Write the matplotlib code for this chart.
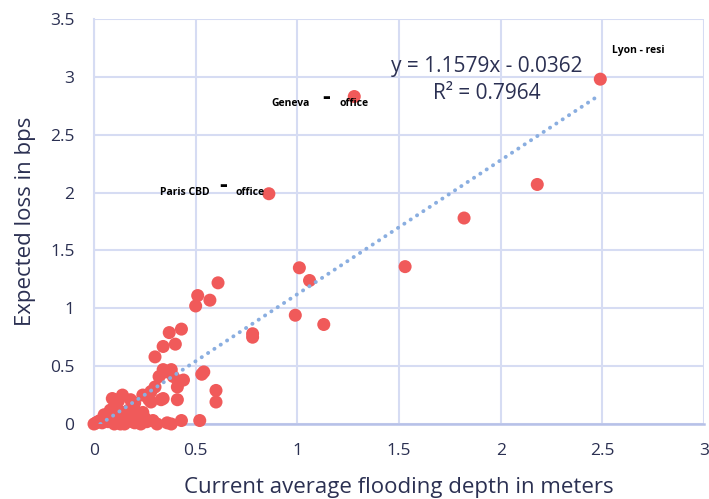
import matplotlib
matplotlib.use("Agg")
import matplotlib.pyplot as plt
import numpy as np

# ---- data ----
depth_m = [0.00, 0.01, 0.02, 0.03, 0.04, 0.05, 0.06, 0.07, 0.08, 0.09,
           0.09, 0.10, 0.10, 0.11, 0.12, 0.12, 0.13, 0.14, 0.14, 0.15,
           0.16, 0.17, 0.18, 0.19, 0.20, 0.20, 0.21, 0.22, 0.23, 0.24,
           0.24, 0.25, 0.26, 0.27, 0.28, 0.28, 0.29, 0.30, 0.30, 0.31,
           0.32, 0.33, 0.34, 0.34, 0.34, 0.35, 0.36, 0.37, 0.38, 0.38,
           0.39, 0.40, 0.41, 0.41, 0.42, 0.43, 0.43, 0.44, 0.50, 0.51,
           0.52, 0.53, 0.54, 0.57, 0.60, 0.60, 0.61, 0.78, 0.78, 0.86,
           0.99, 1.01, 1.06, 1.13, 1.28, 1.53, 1.82, 2.18, 2.49]
loss_bps = [0.00, 0.01, 0.02, 0.03, 0.01, 0.08, 0.04, 0.02, 0.12, 0.22,
            0.06, 0.21, 0.00, 0.15, 0.05, 0.20, 0.00, 0.25, 0.10, 0.00,
            0.03, 0.12, 0.21, 0.02, 0.18, 0.01, 0.09, 0.04, 0.00, 0.25,
            0.10, 0.05, 0.02, 0.21, 0.19, 0.28, 0.03, 0.32, 0.58, 0.00,
            0.41, 0.21, 0.22, 0.47, 0.67, 0.45, 0.01, 0.79, 0.47, 0.00,
            0.41, 0.69, 0.32, 0.21, 0.37, 0.03, 0.82, 0.38, 1.02, 1.11,
            0.03, 0.43, 0.45, 1.07, 0.29, 0.19, 1.22, 0.78, 0.75, 1.99,
            0.94, 1.35, 1.24, 0.86, 2.83, 1.36, 1.78, 2.07, 2.98]

trend_slope = 1.1579
trend_intercept = -0.0362
r_squared = 0.7964

x_ticks = [0, 0.5, 1, 1.5, 2, 2.5, 3]
x_tick_labels = ["0", "0.5", "1", "1.5", "2", "2.5", "3"]
y_ticks = [0, 0.5, 1, 1.5, 2, 2.5, 3, 3.5]
y_tick_labels = ["0", "0.5", "1", "1.5", "2", "2.5", "3", "3.5"]

# ---- style ----
plt.rcParams['font.family'] = ['Open Sans', 'DejaVu Sans']
TXT = '#2b3052'
GRID = '#d6dcf3'
PT = '#f05a5a'
TREND = '#8aaee0'

fig = plt.figure(figsize=(7.09, 4.99), dpi=100)
ax = fig.add_axes([94/709, 1 - 424/499, 610/709, (424 - 19)/499])

ax.set_xlim(0, 3)
ax.set_ylim(0, 3.5)
ax.set_xticks(x_ticks)
ax.set_xticklabels(x_tick_labels)
ax.set_yticks(y_ticks)
ax.set_yticklabels(y_tick_labels)
ax.tick_params(length=0, labelsize=12.5, colors=TXT)
ax.tick_params(axis='x', pad=14)
ax.tick_params(axis='y', pad=14)
ax.grid(True, color=GRID, linewidth=1.5)
ax.set_axisbelow(True)
for s in ['top', 'right']:
    ax.spines[s].set_visible(False)
ax.spines['left'].set_color(GRID)
ax.spines['left'].set_linewidth(1.5)
ax.spines['bottom'].set_color('#b7c1e8')
ax.spines['bottom'].set_linewidth(1.8)

ax.scatter(depth_m, loss_bps, s=88, color=PT, edgecolors='none', zorder=3, clip_on=False)

x0 = -trend_intercept / trend_slope
tx = np.array([x0, max(depth_m) - 0.015])
ax.plot(tx, trend_slope * tx + trend_intercept, color=TREND, linewidth=2.8,
        linestyle=(0, (0.05, 1.9)), dash_capstyle='round', zorder=4)

ax.text(1.933, 3.086, f"y = {trend_slope:.4f}x - {abs(trend_intercept):.4f}",
        ha='center', va='center', fontsize=15, color=TXT)
ax.text(1.933, 2.86, f"R² = {r_squared:.4f}", ha='center', va='center',
        fontsize=15, color=TXT)

lab_kw = dict(fontsize=7.5, fontweight='bold', color='black', va='center')
dash_kw = dict(ha='center', fontsize=17, fontweight='bold', color='black', va='center')
ax.text(2.548, 3.225, "Lyon - resi", ha='left', **lab_kw)
ax.text(0.873, 2.773, "Geneva", ha='left', **lab_kw)
ax.text(1.141, 2.815, "-", **dash_kw)
ax.text(1.205, 2.773, "office", ha='left', **lab_kw)
ax.text(0.325, 2.003, "Paris CBD", ha='left', **lab_kw)
ax.text(0.635, 2.055, "-", **dash_kw)
ax.text(0.698, 2.003, "office", ha='left', **lab_kw)

ax.set_xlabel("Current average flooding depth in meters", fontsize=16, color=TXT, labelpad=13)
ax.set_ylabel("Expected loss in bps", fontsize=16, color=TXT, va='center')
ax.yaxis.set_label_coords(-0.113, 0.5)

fig.savefig("out.png", dpi=100)
